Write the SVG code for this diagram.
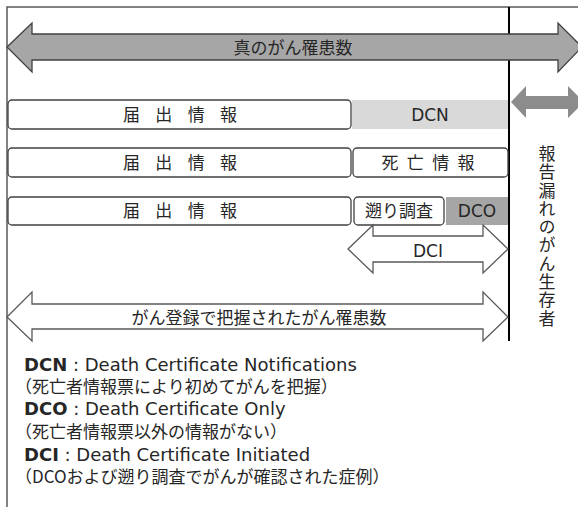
<svg xmlns="http://www.w3.org/2000/svg" width="578" height="507" viewBox="0 0 578 507">
<style>
.frame{stroke:#595959;stroke-width:1.5;fill:none}
.box{fill:#fff;stroke:#404040;stroke-width:1.3}
.big{fill:#a6a6a6;stroke:#404040;stroke-width:1.3}
.out{fill:#fff;stroke:#595959;stroke-width:1.3}
.jp{font-family:"Noto Sans CJK JP",sans-serif;font-size:17px;fill:#262626}
.lat{font-family:"DejaVu Sans","Noto Sans CJK JP",sans-serif;font-size:17px;fill:#262626}
.leg{font-size:18px}
.mid{text-anchor:middle}
</style>
<rect width="578" height="507" fill="#fff"/>
<g id="frame">
<path class="frame" d="M7,507 V7 H578"/>
<line x1="509" y1="7" x2="509" y2="341" stroke="#000" stroke-width="2"/>
</g>
<g id="row1">
<rect x="352" y="100" width="156" height="29" fill="#d9d9d9"/>
<rect class="box" x="8" y="100" width="343" height="29" rx="4"/>
<text class="jp mid" x="180" y="120.5" textLength="114" lengthAdjust="spacing">届 出 情 報</text>
<text class="lat mid" x="430" y="121">DCN</text>
</g>
<g id="row2">
<rect class="box" x="8" y="148" width="343" height="29" rx="4"/>
<text class="jp mid" x="180" y="168.5" textLength="114" lengthAdjust="spacing">届 出 情 報</text>
<rect class="box" x="353" y="148" width="155" height="29" rx="4"/>
<text class="jp mid" x="428" y="168.5" textLength="93" lengthAdjust="spacing">死 亡 情 報</text>
</g>
<g id="row3">
<rect x="446" y="197" width="62" height="28" fill="#a6a6a6"/>
<rect class="box" x="8" y="197" width="343" height="28" rx="4"/>
<text class="jp mid" x="180" y="217" textLength="114" lengthAdjust="spacing">届 出 情 報</text>
<rect class="box" x="354" y="197" width="90" height="28" rx="4"/>
<text class="jp mid" x="399" y="217">遡り調査</text>
<text class="lat mid" x="477" y="217">DCO</text>
</g>
<g id="connectors">
<g id="true-incidence">
<polygon class="big" points="7,47 32,23 32,34 558,34 558,23 582,47 558,72 558,60 32,60 32,72"/>
<text class="jp mid" x="293" y="54">真のがん罹患数</text>
</g>
<g id="missed">
<polygon fill="#8c8c8c" points="511,102 526,86 526,96 568,96 568,86 584,102 568,118 568,109 526,109 526,118"/>
</g>
<g id="dci">
<polygon class="out" points="348,249 373,225 373,236 483,236 483,225 508,249 483,273 483,262 373,262 373,273"/>
<text class="lat mid" x="428" y="257">DCI</text>
</g>
<g id="registered">
<polygon class="out" points="7,317 32,292 32,304 483,304 483,292 508,317 483,341 483,329 32,329 32,341"/>
<text class="jp mid" x="259" y="324">がん登録で把握されたがん罹患数</text>
</g>
</g>
<g id="survivors">
<text class="jp" x="547" y="145" writing-mode="vertical-rl" style="letter-spacing:1.3px">報告漏れのがん生存者</text>
</g>
<g id="legend">
<text class="lat leg" x="24" y="371"><tspan font-weight="bold">DCN</tspan> : Death Certificate Notifications</text>
<text class="jp" x="15" y="393">（死亡者情報票により初めてがんを把握）</text>
<text class="lat leg" x="24" y="415"><tspan font-weight="bold">DCO</tspan> : Death Certificate Only</text>
<text class="jp" x="15" y="438">（死亡者情報票以外の情報がない）</text>
<text class="lat leg" x="24" y="461"><tspan font-weight="bold">DCI</tspan> : Death Certificate Initiated</text>
<text class="jp" x="15" y="483">（DCOおよび遡り調査でがんが確認された症例）</text>
</g>
</svg>
